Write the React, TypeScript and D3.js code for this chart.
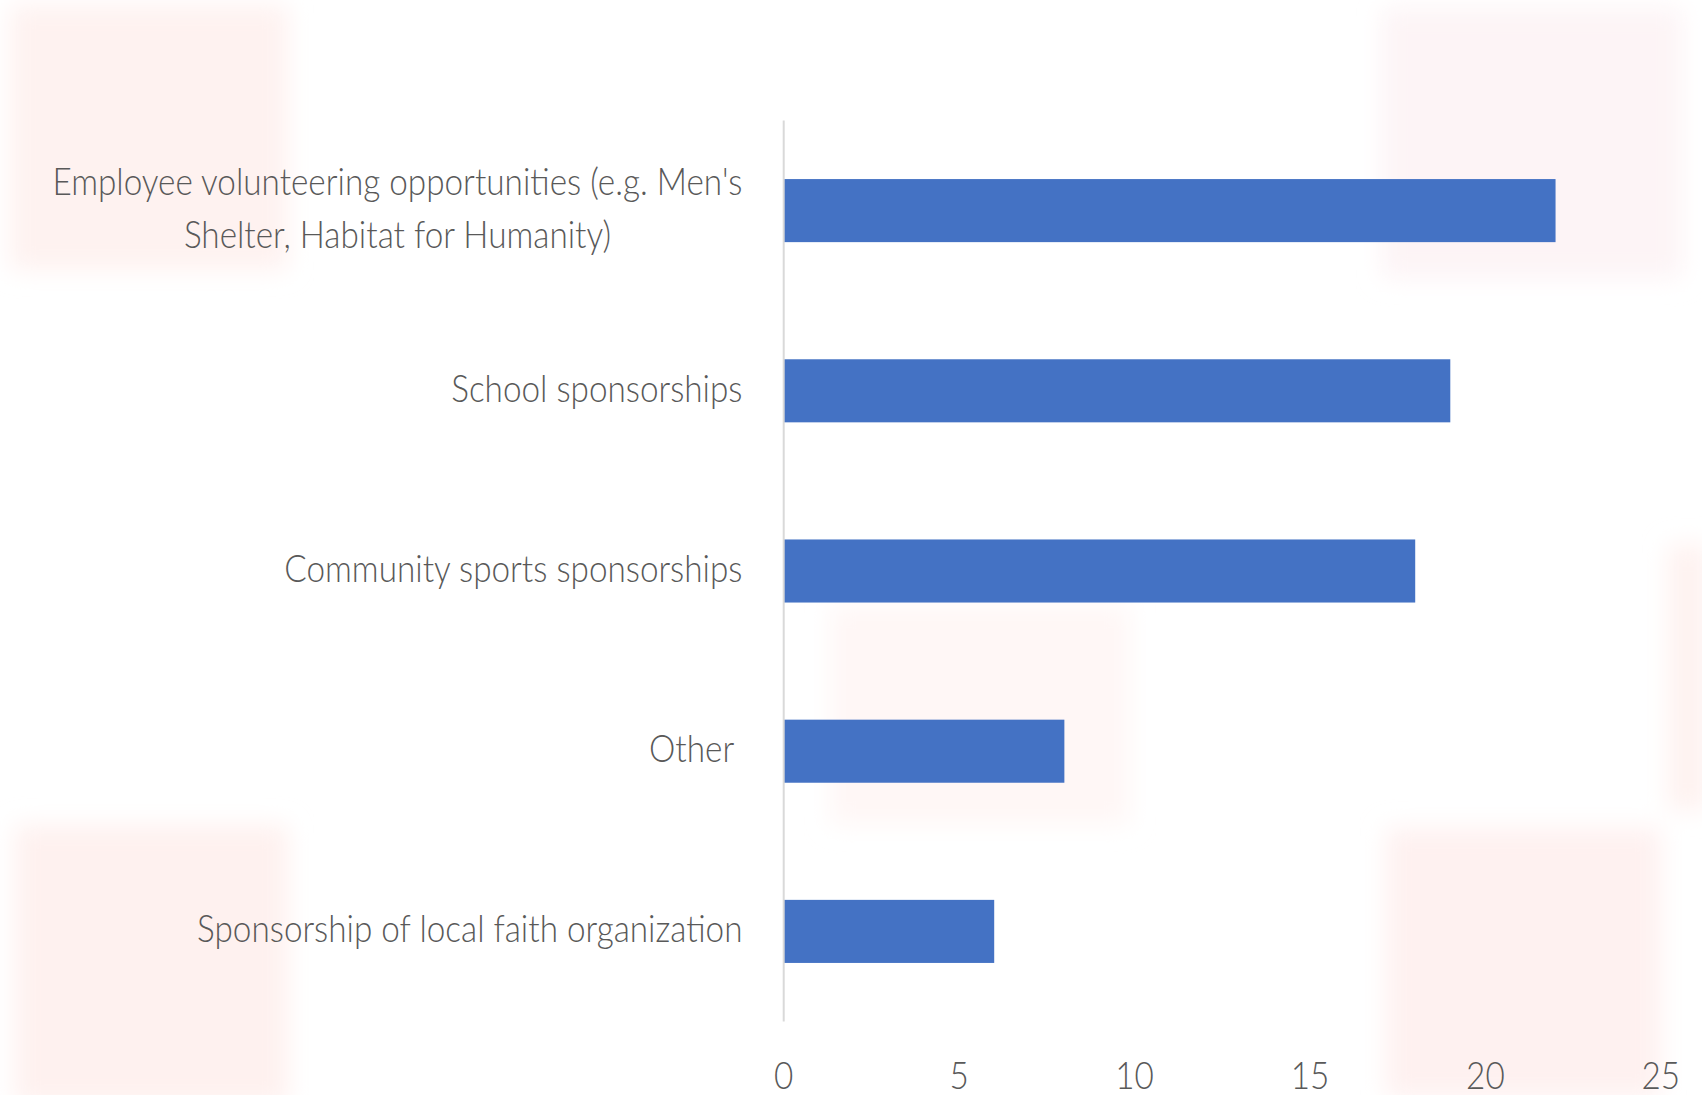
import React, { useEffect, useRef } from "react";
import * as d3 from "d3";

const categories = [
  "Employee volunteering opportunities (e.g. Men's Shelter, Habitat for Humanity)",
  "School sponsorships",
  "Community sports sponsorships",
  "Other ",
  "Sponsorship of local faith organization",
];
const values = [22, 19, 18, 8, 6];
const tickValues = [0, 5, 10, 15, 20, 25];

const W = 1702;
const H = 1095;
const FONT = "Lato, 'Open Sans', sans-serif";
const TEXT_COLOR = "#595959";
const BAR_COLOR = "#4472C4";
const SX = 0.9; // horizontal compression of text
const FS = 37;
const FW = 300;

export default function App() {
  const ref = useRef<SVGSVGElement>(null);

  useEffect(() => {
    const svg = d3.select(ref.current);
    svg.selectAll("*").remove();

    const defs = svg.append("defs");
    defs
      .append("filter")
      .attr("id", "blur")
      .attr("x", "-20%")
      .attr("y", "-20%")
      .attr("width", "140%")
      .attr("height", "140%")
      .append("feGaussianBlur")
      .attr("stdDeviation", 12);
    const blobs = [
      { x: 10, y: 5, w: 278, h: 265, c: "#fef2f0" },
      { x: 15, y: 825, w: 273, h: 280, c: "#fef1ef" },
      { x: 1382, y: 8, w: 300, h: 270, c: "#fdf4f6" },
      { x: 1386, y: 828, w: 275, h: 270, c: "#fef1f0" },
      { x: 830, y: 605, w: 300, h: 220, c: "#fff7f6" },
      { x: 1668, y: 545, w: 40, h: 265, c: "#fef2f0" },
    ];
    svg
      .append("g")
      .attr("filter", "url(#blur)")
      .selectAll("rect")
      .data(blobs)
      .join("rect")
      .attr("x", (d) => d.x)
      .attr("y", (d) => d.y)
      .attr("width", (d) => d.w)
      .attr("height", (d) => d.h)
      .attr("fill", (d) => d.c);

    const x = d3.scaleLinear().domain([0, 25]).range([783.7, 1660.8]);
    const y = d3
      .scaleBand<string>()
      .domain(categories)
      .range([120.5, 1021.5])
      .paddingInner(0.65)
      .paddingOuter(0.325);

    svg
      .append("g")
      .selectAll("rect")
      .data(categories)
      .join("rect")
      .attr("x", x(0))
      .attr("y", (d) => y(d)!)
      .attr("width", (d, i) => x(values[i]) - x(0))
      .attr("height", y.bandwidth())
      .attr("fill", BAR_COLOR);

    svg
      .append("line")
      .attr("x1", x(0))
      .attr("x2", x(0))
      .attr("y1", 120.5)
      .attr("y2", 1021.5)
      .attr("stroke", "#d9d9d9")
      .attr("stroke-width", 2);

    svg
      .append("g")
      .selectAll("g")
      .data(tickValues)
      .join("g")
      .attr("transform", (d) => `translate(${x(d)},1089) scale(${SX},1)`)
      .append("text")
      .attr("text-anchor", "middle")
      .attr("font-family", FONT)
      .attr("font-size", FS)
      .attr("font-weight", FW)
      .attr("fill", TEXT_COLOR)
      .text((d) => String(d));

    const labelRight = 742.5;
    const maxWidth = 712;
    const lineH = 52.4;
    const lg = svg.append("g");
    categories.forEach((cat) => {
      const cy = y(cat)! + y.bandwidth() / 2;
      const g = lg
        .append("g")
        .attr("transform", `translate(${labelRight},0) scale(${SX},1)`);
      const words = cat.trim().split(" ");
      const probe = g
        .append("text")
        .attr("font-family", FONT)
        .attr("font-size", FS)
        .attr("font-weight", FW);
      const lines: string[] = [];
      let cur = "";
      words.forEach((w) => {
        const test = cur ? cur + " " + w : w;
        probe.text(test);
        const len = (probe.node() as SVGTextElement).getComputedTextLength() * SX;
        if (len > maxWidth && cur) {
          lines.push(cur);
          cur = w;
        } else {
          cur = test;
        }
      });
      lines.push(cat.endsWith(" ") ? cur + " " : cur);
      probe.remove();

      if (lines.length === 1) {
        g.append("text")
          .attr("x", 0)
          .attr("y", cy + 11)
          .attr("text-anchor", "end")
          .attr("font-family", FONT)
          .attr("font-size", FS)
          .attr("font-weight", FW)
          .attr("fill", TEXT_COLOR)
          .style("white-space", "pre")
          .text(lines[0]);
      } else {
        let widest = 0;
        lines.forEach((l) => {
          const t = g
            .append("text")
            .attr("font-family", FONT)
            .attr("font-size", FS)
            .attr("font-weight", FW)
            .text(l);
          widest = Math.max(widest, (t.node() as SVGTextElement).getComputedTextLength());
          t.remove();
        });
        const n = lines.length;
        lines.forEach((l, i) => {
          g.append("text")
            .attr("x", -widest / 2)
            .attr("y", cy + 11 + (i - (n - 1) / 2) * lineH)
            .attr("text-anchor", "middle")
            .attr("font-family", FONT)
            .attr("font-size", FS)
            .attr("font-weight", FW)
            .attr("fill", TEXT_COLOR)
            .text(l);
        });
      }
    });
  }, []);

  return (
    <svg
      ref={ref}
      width={W}
      height={H}
      style={{ position: "absolute", left: 0, top: 0, background: "#ffffff" }}
    />
  );
}
